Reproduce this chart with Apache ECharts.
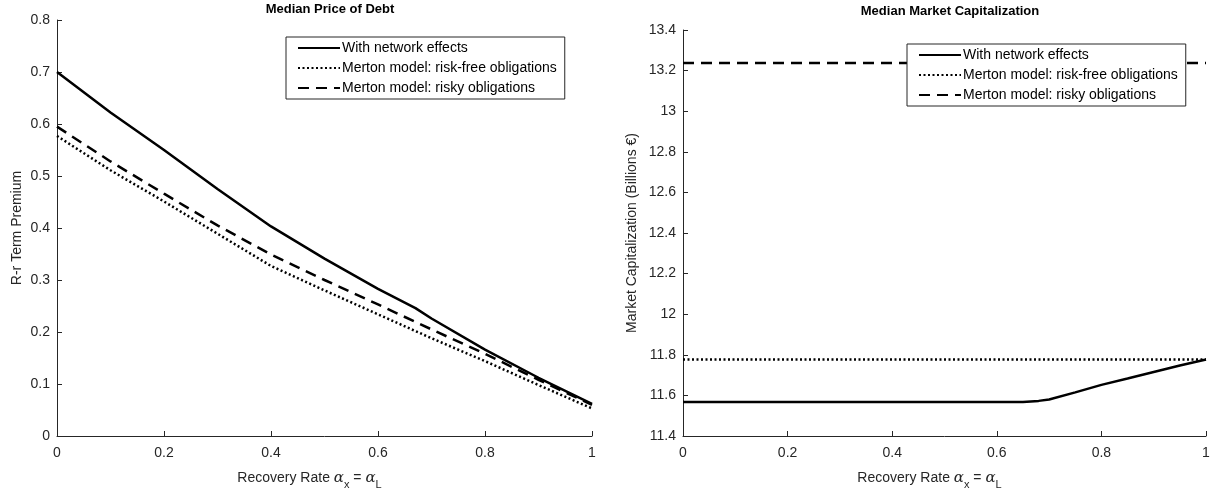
<!DOCTYPE html>
<html>
<head>
<meta charset="utf-8">
<script src="https://cdn.jsdelivr.net/npm/echarts@6/dist/echarts.min.js"></script>
<style>
html,body{margin:0;padding:0;background:#fff;}
#c{width:1222px;height:498px;}
</style>
</head>
<body>
<div id="c"></div>
<script>
// ---- data ----
const seriesNames = ['With network effects', 'Merton model: risk-free obligations', 'Merton model: risky obligations'];

// Left panel: Median Price of Debt
const debtX = [0, 0.1, 0.2, 0.3, 0.4, 0.5, 0.6, 0.67, 0.7, 0.8, 0.9, 1.0];
const debtNetwork = [0.700, 0.622, 0.550, 0.475, 0.403, 0.341, 0.283, 0.246, 0.226, 0.166, 0.112, 0.062];
const debtX2 = [0, 0.1, 0.2, 0.3, 0.4, 0.5, 0.6, 0.7, 0.8, 0.9, 1.0];
const debtRiskFree = [0.577, 0.511, 0.451, 0.389, 0.327, 0.280, 0.234, 0.188, 0.144, 0.098, 0.053];
const debtRisky = [0.595, 0.528, 0.466, 0.405, 0.349, 0.300, 0.253, 0.205, 0.158, 0.108, 0.060];

// Right panel: Median Market Capitalization
const capX = [0, 0.2, 0.4, 0.6, 0.62, 0.65, 0.68, 0.7, 0.75, 0.8, 0.85, 0.9, 0.95, 1.0];
const capNetwork = [11.567, 11.567, 11.567, 11.567, 11.567, 11.568, 11.573, 11.580, 11.615, 11.652, 11.683, 11.715, 11.747, 11.777];
const capX2 = [0, 1];
const capRiskFree = [11.777, 11.777];
const capRisky = [13.238, 13.238];

// tick labels
const debtYTicks = { min: 0, max: 0.8, interval: 0.1 };
const capYTicks = { min: 11.4, max: 13.4, interval: 0.2 };
const xTicks = { min: 0, max: 1, interval: 0.2 };

const zip = (xs, ys) => xs.map((x, i) => [x, ys[i]]);

const AX = '#262626';
const FONT = 'Liberation Sans, Arial, Helvetica, sans-serif';

const xName = '{t|Recovery Rate }{a|α}{s|x}{t| = }{a|α}{s|L}';
const xNameStyle = {
  color: AX,
  padding: [0, 30, 0, 0],
  rich: {
    t: { fontSize: 14, fontFamily: FONT, color: AX, verticalAlign: 'top', lineHeight: 16 },
    a: { fontSize: 15, fontFamily: 'DejaVu Serif, serif', fontStyle: 'italic', color: AX, verticalAlign: 'top', lineHeight: 16 },
    s: { fontSize: 11, fontFamily: FONT, color: AX, verticalAlign: 'top', padding: [8, 0, 0, 0], lineHeight: 12 }
  }
};

function xAxis(gridIndex) {
  return {
    type: 'value', gridIndex, min: xTicks.min, max: xTicks.max, interval: xTicks.interval,
    name: xName, nameLocation: 'middle', nameGap: 35, nameTextStyle: xNameStyle,
    axisLine: { lineStyle: { color: AX, width: 1 } },
    axisTick: { inside: true, length: 5, lineStyle: { color: AX } },
    axisLabel: { color: AX, fontSize: 14, fontFamily: FONT, margin: 10 },
    splitLine: { show: false }
  };
}
function yAxis(gridIndex, t, name, gap, fmt) {
  return {
    type: 'value', gridIndex, min: t.min, max: t.max, interval: t.interval,
    name, nameLocation: 'middle', nameGap: gap,
    nameTextStyle: { color: AX, fontSize: 14, fontFamily: FONT },
    axisLine: { show: true, lineStyle: { color: AX, width: 1 } },
    axisTick: { show: true, inside: true, length: 5, lineStyle: { color: AX } },
    axisLabel: { color: AX, fontSize: 14, fontFamily: FONT, margin: 7, formatter: fmt },
    splitLine: { show: false }
  };
}

const solid = { color: '#000', width: 2.5, type: 'solid' };
const dotted = { color: '#000', width: 2.5, type: [2, 2.5] };
const dashed = { color: '#000', width: 2.5, type: [11, 7] };

function line(name, data, xi, style) {
  return {
    name, type: 'line', xAxisIndex: xi, yAxisIndex: xi, data,
    showSymbol: false, symbol: 'none', smooth: false, animation: false,
    lineStyle: style, itemStyle: { color: '#000' }
  };
}

const legendBase = {
  orient: 'vertical', data: seriesNames,
  itemWidth: 42, itemHeight: 14, itemGap: 6,
  borderColor: AX, borderWidth: 1, backgroundColor: '#fff',
  padding: [4, 8, 4, 11],
  itemStyle: { opacity: 0 },
  textStyle: { color: '#000', fontSize: 14, fontFamily: FONT, padding: [0, 0, 0, -3] },
  selectedMode: false
};

const chart = echarts.init(document.getElementById('c'), null, { renderer: 'canvas' });
chart.setOption({
  backgroundColor: '#fff',
  animation: false,
  title: [
    { text: 'Median Price of Debt', left: 325, top: -2, textAlign: 'center',
      textStyle: { fontSize: 13, fontWeight: 'bold', color: '#000', fontFamily: FONT } },
    { text: 'Median Market Capitalization', left: 945, top: 0, textAlign: 'center',
      textStyle: { fontSize: 13, fontWeight: 'bold', color: '#000', fontFamily: FONT } }
  ],
  legend: [
    Object.assign({}, legendBase, { left: 286, top: 37 }),
    Object.assign({}, legendBase, { left: 907, top: 44 })
  ],
  grid: [
    { left: 57, right: 1222 - 592, top: 20, bottom: 498 - 436 },
    { left: 683, right: 1222 - 1206, top: 30, bottom: 498 - 436 }
  ],
  xAxis: [xAxis(0), xAxis(1)],
  yAxis: [
    yAxis(0, debtYTicks, 'R-r Term Premium', 33, v => String(+v.toFixed(1))),
    yAxis(1, capYTicks, 'Market Capitalization (Billions €)', 44, v => String(+v.toFixed(1)))
  ],
  series: [
    line(seriesNames[0], zip(debtX, debtNetwork), 0, solid),
    line(seriesNames[1], zip(debtX2, debtRiskFree), 0, dotted),
    line(seriesNames[2], zip(debtX2, debtRisky), 0, dashed),
    line(seriesNames[0], zip(capX, capNetwork), 1, solid),
    line(seriesNames[1], zip(capX2, capRiskFree), 1, dotted),
    line(seriesNames[2], zip(capX2, capRisky), 1, dashed)
  ]
});
</script>
</body>
</html>
